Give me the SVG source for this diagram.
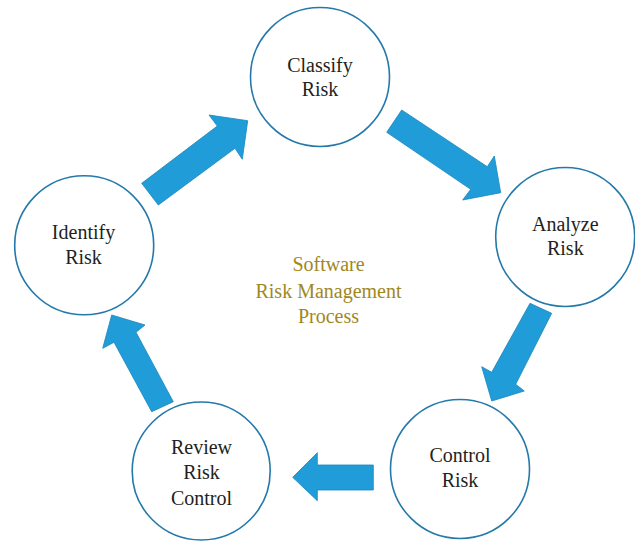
<svg xmlns="http://www.w3.org/2000/svg" width="635" height="541" viewBox="0 0 635 541">
<style>
.node circle{fill:#fff;stroke:#2479AB;stroke-width:1.6}
.node text,.center text{font-family:"Liberation Serif","Times New Roman",serif;font-size:20px;text-anchor:middle}
.node text{fill:#231F20}
.center text{fill:#A0881E}
.conn polygon{fill:#209CD8;stroke:#1B85BB;stroke-width:0.8;stroke-linejoin:miter}
</style>
<rect width="635" height="541" fill="#fff"/>
<g class="conn" id="connectors">
<polygon points="158.3,205 141.7,183.3 217.3,126 209,115 247.7,120.7 242.3,159.3 235,148.3"/>
<polygon points="401.7,110 386.7,132.3 470.7,189.3 462.7,200 500.7,192.7 494.3,156 487.3,166.7"/>
<polygon points="551.7,313.3 530,303.3 491.7,372.3 481.7,366.7 491.7,401 524.3,391 515.7,384.3"/>
<polygon points="373.3,465 373.3,490 317.3,490 317.3,500.7 292.7,477.3 317.3,452.7 317.3,465"/>
<polygon points="173.3,401.7 151.7,411.7 114,342.3 102.7,348.3 111.7,315 145,325 136,332.3"/>
</g>
<g class="node" id="classify"><circle cx="320" cy="77" r="69.5"/><text x="320" y="71.7">Classify</text><text x="320" y="96">Risk</text></g>
<g class="node" id="analyze"><circle cx="565.2" cy="237" r="69.5"/><text x="565.3" y="230.7">Analyze</text><text x="565.3" y="255">Risk</text></g>
<g class="node" id="control"><circle cx="460" cy="469" r="69.5"/><text x="460" y="461.7">Control</text><text x="460" y="486.7">Risk</text></g>
<g class="node" id="review"><circle cx="201.2" cy="471" r="69"/><text x="201.5" y="454.3">Review</text><text x="201.5" y="479.3">Risk</text><text x="201.5" y="505">Control</text></g>
<g class="node" id="identify"><circle cx="84.2" cy="245.3" r="69.5"/><text x="83.5" y="239">Identify</text><text x="83.5" y="264">Risk</text></g>
<g class="center" id="title"><text x="328.5" y="270.7">Software</text><text x="328.5" y="297.7">Risk Management</text><text x="328.5" y="322.7">Process</text></g>
</svg>
